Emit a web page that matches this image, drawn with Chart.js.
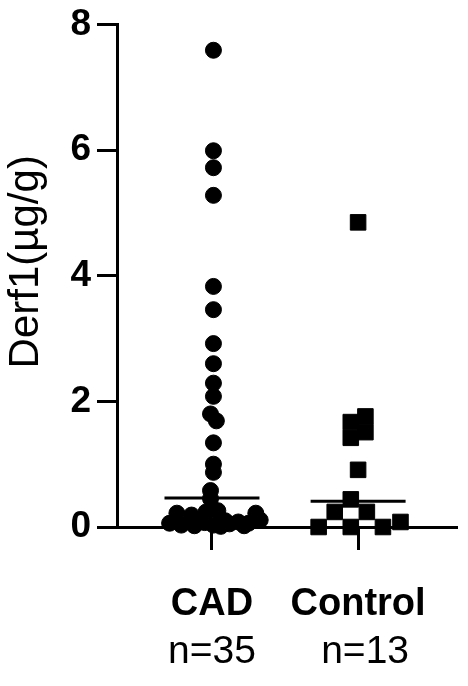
<!DOCTYPE html>
<html>
<head>
<meta charset="utf-8">
<script src="https://cdn.jsdelivr.net/npm/chart.js@4.4.0/dist/chart.umd.min.js"></script>
<style>
  html, body { margin: 0; padding: 0; background: #fff; }
  #wrap { width: 468px; height: 686px; }
</style>
</head>
<body>
<div id="wrap"><canvas id="c" width="468" height="686"></canvas></div>
<script>
// ===== data =====
const groupNames  = ['CAD', 'Control'];
const groupCounts = ['n=35', 'n=13'];
const yTicks = [0, 2, 4, 6, 8];
const yTitle = 'Derf1(µg/g)';

// CAD values and their horizontal scatter (x units around the group centre)
const cadValues = [
  7.59, 5.99, 5.72, 5.28, 3.83, 3.46, 2.92, 2.60, 2.29, 2.08,
  1.80, 1.69, 1.34, 1.00, 0.87, 0.58, 0.45,
  0.22, 0.19, 0.24, 0.26, 0.22, 0.10, 0.06, 0.03, 0.02, 0.07,
  0.03, 0.05, 0.08, 0.06, 0.11, 0.09, 0.01, 0.02
];
const cadJitter = [
  0.01, 0.01, 0.01, 0.01, 0.01, 0.01, 0.01, 0.01, 0.01, 0.01,
  -0.01, 0.03, 0.01, 0.01, 0.01, -0.01, -0.01,
  -0.24, -0.14, -0.04, 0.04, 0.30, 0.09, -0.29, -0.21, -0.12, -0.05,
  0.01, 0.12, 0.18, 0.25, 0.33, -0.09, 0.06, 0.22
];

const controlValues = [4.85, 1.67, 1.42, 1.76, 1.51, 0.91, 0.44, 0.24, 0.24, 0.00, 0.00, 0.00, 0.08];
const controlJitter = [0.00, -0.05, -0.05, 0.05, 0.05, 0.00, -0.05, -0.16, 0.06, -0.27, -0.05, 0.17, 0.29];

// median bar of each group
const medianValues = [0.46, 0.41];

// ===== layout / style =====
const FONT = '"Liberation Sans", Arial, Helvetica, sans-serif';
const MEDIAN_HALF = 0.325;      // half width of the median bar, x units
const countShift = [0, 7];      // small horizontal nudge of the n= lines

const labelPlugin = {
  id: 'groupLabels',
  afterDraw(chart) {
    const { ctx, chartArea, scales } = chart;
    const x = scales.x;
    ctx.save();
    ctx.fillStyle = '#000';
    ctx.textAlign = 'center';
    ctx.textBaseline = 'alphabetic';
    groupNames.forEach((name, i) => {
      const px = x.getPixelForValue(i + 1);
      ctx.font = 'bold 38px ' + FONT;
      ctx.fillText(name, px, chartArea.bottom + 88);
      ctx.font = '39px ' + FONT;
      ctx.fillText(groupCounts[i], px + countShift[i], chartArea.bottom + 136);
    });
    // rotated y title
    ctx.translate(38, (chartArea.top + chartArea.bottom) / 2 - 14);
    ctx.rotate(-Math.PI / 2);
    ctx.font = '42px ' + FONT;
    ctx.fillText(yTitle, 0, 0);
    ctx.restore();
  },
};

const medianSets = medianValues.map((m, i) => ({
  type: 'line',
  data: [{ x: i + 1 - MEDIAN_HALF, y: m }, { x: i + 1 + MEDIAN_HALF, y: m }],
  borderColor: '#000',
  borderWidth: 3,
  pointRadius: 0,
  showLine: true,
  fill: false,
  clip: false,
}));

new Chart(document.getElementById('c'), {
  type: 'scatter',
  plugins: [labelPlugin],
  data: {
    datasets: [
      ...medianSets,
      {
        label: 'CAD',
        data: cadValues.map((v, i) => ({ x: 1 + cadJitter[i], y: v })),
        pointStyle: 'circle',
        pointRadius: 8,
        backgroundColor: '#000',
        borderColor: '#000',
        borderWidth: 1,
        clip: false,
      },
      {
        label: 'Control',
        data: controlValues.map((v, i) => ({ x: 2 + controlJitter[i], y: v })),
        pointStyle: 'rect',
        pointRadius: 11,
        backgroundColor: '#000',
        borderColor: '#000',
        borderWidth: 1,
        clip: false,
      },
    ],
  },
  options: {
    responsive: false,
    animation: false,
    layout: { padding: { top: 18, right: 10, left: 0, bottom: 0 } },
    plugins: { legend: { display: false }, tooltip: { enabled: false } },
    scales: {
      x: {
        type: 'linear',
        min: 0.35,
        max: 2.67,
        afterBuildTicks: ax => { ax.ticks = groupNames.map((_, i) => ({ value: i + 1 })); },
        afterFit: s => { s.height = 159; },
        ticks: { display: false },
        grid: { drawOnChartArea: false, drawTicks: true, tickLength: 23, lineWidth: 3, color: '#000' },
        border: { display: true, width: 3, color: '#000' },
      },
      y: {
        min: 0,
        max: 8,
        afterBuildTicks: ax => { ax.ticks = yTicks.map(v => ({ value: v })); },
        afterFit: s => { s.width = 117; },
        ticks: { color: '#000', padding: 6, font: { family: FONT, size: 37, weight: 'bold', lineHeight: 1 } },
        grid: { drawOnChartArea: false, drawTicks: true, tickLength: 20, lineWidth: 3, color: '#000' },
        border: { display: true, width: 3, color: '#000' },
      },
    },
  },
});
</script>
</body>
</html>
